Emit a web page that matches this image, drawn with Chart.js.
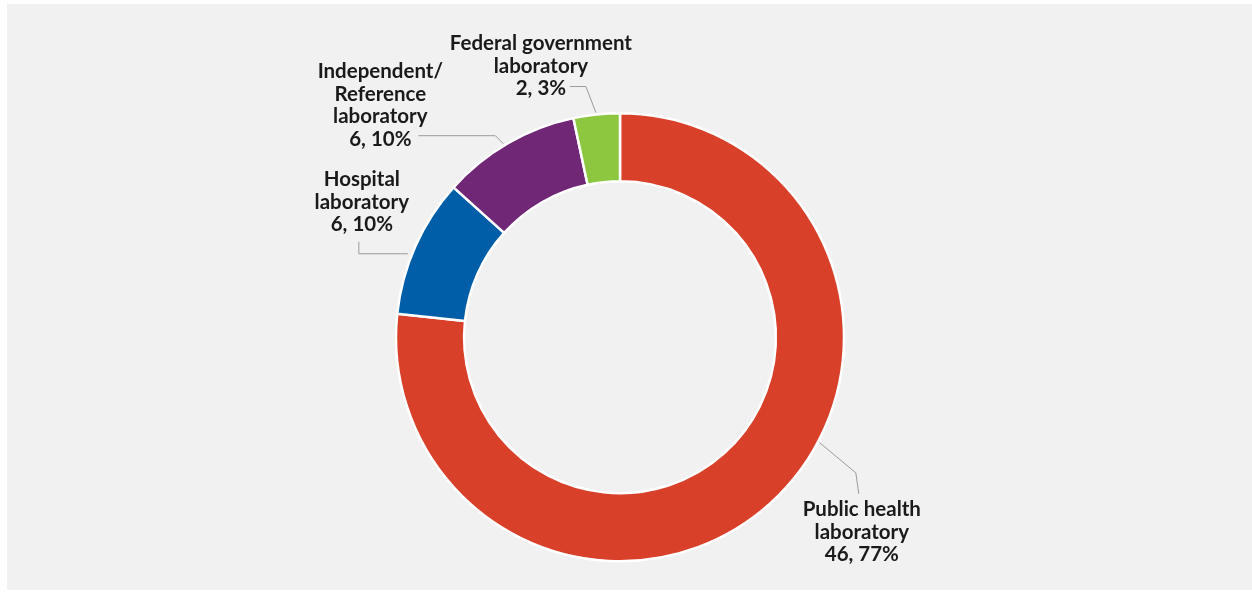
<!DOCTYPE html>
<html>
<head>
<meta charset="utf-8">
<script src="https://cdn.jsdelivr.net/npm/chart.js@4.4.1/dist/chart.umd.min.js"></script>
<style>
  html, body { margin: 0; padding: 0; background: #ffffff; }
  #wrap {
    position: absolute;
    left: 7px; top: 4px;
    width: 1245px; height: 586px;
    background: #f1f1f1;
  }
</style>
</head>
<body>
<div id="wrap"><canvas id="donutChart"></canvas></div>
<script>
/* ---- data ---- */
const categories = [
  "Public health laboratory",
  "Hospital laboratory",
  "Independent/Reference laboratory",
  "Federal government laboratory"
];
const counts = [46, 6, 6, 2];
const labelLines = [
  ["Public health", "laboratory"],
  ["Hospital", "laboratory"],
  ["Independent/", "Reference", "laboratory"],
  ["Federal government", "laboratory"]
];
const sliceColors = ["#d9402a", "#005ea8", "#702776", "#8dc63f"];

/* ---- label placement (fraction along slice, radius gap, leader + text offsets from anchor) ---- */
const labelLayout = [
  { f: 0.427, dr: 2, leader: [[36, 30], [39, 51]], text: [42, 67] },
  { f: 0.43,  dr: 4, leader: [[-49, 0], [-49, -12]], text: [-46, -74] },
  { f: 0.47,  dr: 2, leader: [[-8, -8], [-85, -8]], text: [-123, -72] },
  { f: 0.49,  dr: 2, leader: [[-10, -26], [-26, -26]], text: [-55, -69] }
];

const total = counts.reduce((a, b) => a + b, 0);

const calloutPlugin = {
  id: "callouts",
  afterDraw(chart) {
    const ctx = chart.ctx;
    const meta = chart.getDatasetMeta(0);
    ctx.save();
    meta.data.forEach((arc, i) => {
      const p = arc.getProps(["x", "y", "startAngle", "endAngle", "outerRadius"], true);
      const lay = labelLayout[i];
      const a = p.startAngle + lay.f * (p.endAngle - p.startAngle);
      const ax = p.x + Math.cos(a) * (p.outerRadius + lay.dr);
      const ay = p.y + Math.sin(a) * (p.outerRadius + lay.dr);

      ctx.strokeStyle = "#9a9a9a";
      ctx.lineWidth = 1;
      ctx.beginPath();
      ctx.moveTo(ax, ay);
      lay.leader.forEach(pt => ctx.lineTo(ax + pt[0], ay + pt[1]));
      ctx.stroke();

      const lines = labelLines[i].concat([
        counts[i] + ", " + Math.round(counts[i] / total * 100) + "%"
      ]);
      ctx.fillStyle = "#1a1a1a";
      ctx.font = "bold 20.5px Lato, 'Open Sans', sans-serif";
      ctx.textAlign = "center";
      ctx.textBaseline = "middle";
      lines.forEach((ln, k) => {
        ctx.fillText(ln, ax + lay.text[0], ay + lay.text[1] + k * 22.5);
      });
    });
    ctx.restore();
  }
};

const donutCtx = document.getElementById("donutChart");

new Chart(donutCtx, {
  type: "doughnut",
  data: {
    labels: categories,
    datasets: [
      {
        data: counts,
        backgroundColor: sliceColors,
        borderColor: "#ffffff",
        borderWidth: 2.5
      }
    ]
  },
  options: {
    responsive: true,
    maintainAspectRatio: false,
    animation: false,
    cutout: "69.6%",
    layout: {
      padding: { top: 108, bottom: 27.5, left: 0, right: 19 }
    },
    plugins: {
      legend: { display: false },
      tooltip: { enabled: false }
    }
  },
  plugins: [calloutPlugin]
});
</script>
</body>
</html>
